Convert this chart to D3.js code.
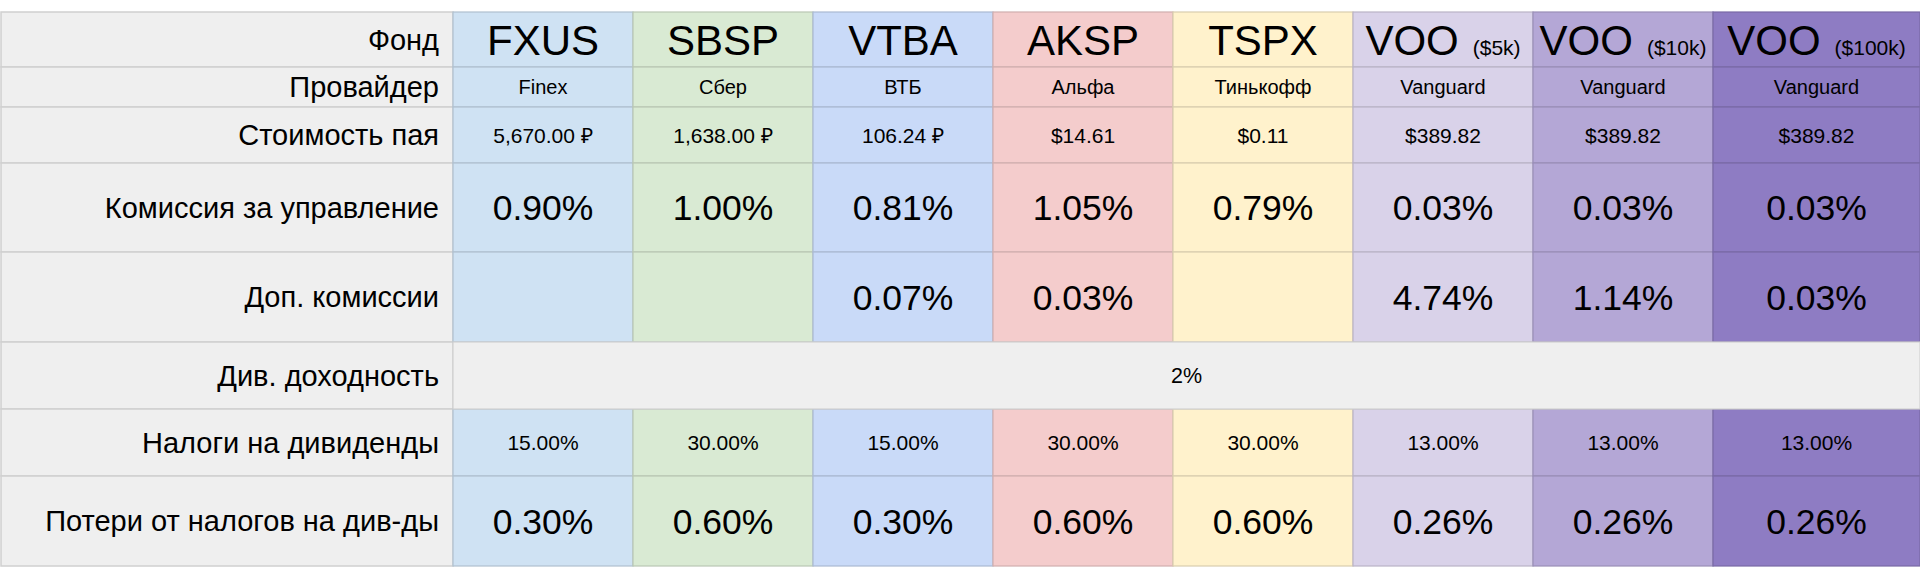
<!DOCTYPE html>
<html>
<head>
<meta charset="utf-8">
<script src="https://cdn.jsdelivr.net/npm/d3@7"></script>
<style>
  body { margin: 0; background: #fff; }
  text { font-family: Arial, "Liberation Sans", sans-serif; fill: #000; }
</style>
</head>
<body>
<div id="container"></div>
<script>

// data
var rowLabels = ["Фонд", "Провайдер", "Стоимость пая", "Комиссия за управление",
    "Доп. комиссии", "Див. доходность", "Налоги на дивиденды", "Потери от налогов на див-ды"];
var funds = ["FXUS", "SBSP", "VTBA", "AKSP", "TSPX", "VOO", "VOO", "VOO"];
var fundNotes = ["", "", "", "", "", "($5k)", "($10k)", "($100k)"];
var providers = ["Finex", "Сбер", "ВТБ", "Альфа", "Тинькофф", "Vanguard", "Vanguard", "Vanguard"];
var prices = ["5,670.00 ₽", "1,638.00 ₽", "106.24 ₽", "$14.61", "$0.11", "$389.82", "$389.82", "$389.82"];
var mgmtFee = [0.90, 1.00, 0.81, 1.05, 0.79, 0.03, 0.03, 0.03];
var extraFee = [null, null, 0.07, 0.03, null, 4.74, 1.14, 0.03];
var divYield = 2;
var divTax = [15, 30, 15, 30, 30, 13, 13, 13];
var taxLoss = [0.30, 0.60, 0.30, 0.60, 0.60, 0.26, 0.26, 0.26];
var colors = ["#cfe2f3", "#d9ead3", "#c9daf8", "#f4cccc", "#fff2cc", "#d9d2e9", "#b4a7d6", "#8e7cc3"];

// layout
var width = 1920, height = 579,
    tableTop = 12,
    labelWidth = 453,
    colWidth = 180,
    rowHeights = [55, 40, 56, 89, 90, 67, 67, 90],
    headBg = "#efefef",
    headLine = "#d0d0d0";

var rowY = [tableTop];
rowHeights.forEach(function (h, i) { rowY.push(rowY[i] + h); });

var x = d3.scaleLinear().domain([0, funds.length]).range([labelWidth, labelWidth + colWidth * funds.length]);
var y = d3.scaleOrdinal().domain(d3.range(rowY.length)).range(rowY);

function colW(i) { return i == funds.length - 1 ? width - x(i) : colWidth; }
function cx(i) { return x(i) + colW(i) / 2; }
function baseline(r, size) { return (y(r) + y(r + 1)) / 2 + size * 0.36; }

var pct2 = d3.format(".2f");

var svg = d3.select("#container")
    .append("svg")
    .attr("width", width)
    .attr("height", height);

// header column
var head = svg.append("g");
head.selectAll("rect")
    .data(rowLabels)
    .enter()
    .append("rect")
    .attr("x", 1)
    .attr("y", function (d, i) { return y(i); })
    .attr("width", labelWidth - 1)
    .attr("height", function (d, i) { return y(i + 1) - y(i); })
    .attr("fill", headBg)
    .attr("stroke", headLine)
    .attr("stroke-width", 1.5);

head.selectAll("text")
    .data(rowLabels)
    .enter()
    .append("text")
    .attr("x", labelWidth - 14)
    .attr("y", function (d, i) { return baseline(i, 29); })
    .attr("text-anchor", "end")
    .style("font-size", "29px")
    .text(function (d) { return d; });

// fund columns
var rowsPerFund = [0, 1, 2, 3, 4, 6, 7];
var cells = [];
funds.forEach(function (f, i) {
    rowsPerFund.forEach(function (r) { cells.push({ col: i, row: r }); });
});

svg.append("g").selectAll("rect")
    .data(cells)
    .enter()
    .append("rect")
    .attr("x", function (d) { return x(d.col); })
    .attr("y", function (d) { return y(d.row); })
    .attr("width", function (d) { return colW(d.col); })
    .attr("height", function (d) { return y(d.row + 1) - y(d.row); })
    .attr("fill", function (d) { return colors[d.col]; })
    .attr("stroke", function (d) { return d3.rgb(colors[d.col]).darker(0.45); })
    .attr("stroke-width", 1.2);

// merged dividend yield row
svg.append("rect")
    .attr("x", x(0))
    .attr("y", y(5))
    .attr("width", width - x(0))
    .attr("height", y(6) - y(5))
    .attr("fill", headBg)
    .attr("stroke", headLine)
    .attr("stroke-width", 1.2);

svg.append("text")
    .attr("x", (x(0) + width) / 2)
    .attr("y", baseline(5, 21.5))
    .attr("text-anchor", "middle")
    .style("font-size", "21.5px")
    .text(divYield + "%");

// fund names
var names = svg.append("g").selectAll("text")
    .data(funds)
    .enter()
    .append("text")
    .attr("x", function (d, i) { return cx(i); })
    .attr("y", baseline(0, 42))
    .attr("text-anchor", "middle");

names.append("tspan")
    .style("font-size", "42px")
    .text(function (d) { return d; });
names.append("tspan")
    .style("font-size", "21px")
    .attr("dx", function (d, i) { return fundNotes[i] ? 14 : 0; })
    .text(function (d, i) { return fundNotes[i]; });

function valueRow(values, row, size, fmt) {
    svg.append("g").selectAll("text")
        .data(values)
        .enter()
        .append("text")
        .attr("x", function (d, i) { return cx(i); })
        .attr("y", baseline(row, size))
        .attr("text-anchor", "middle")
        .style("font-size", size + "px")
        .text(function (d) { return d == null ? "" : fmt(d); });
}

valueRow(providers, 1, 20, String);
valueRow(prices, 2, 21, String);
valueRow(mgmtFee, 3, 35.5, function (d) { return pct2(d) + "%"; });
valueRow(extraFee, 4, 35.5, function (d) { return pct2(d) + "%"; });
valueRow(divTax, 6, 21, function (d) { return pct2(d) + "%"; });
valueRow(taxLoss, 7, 35.5, function (d) { return pct2(d) + "%"; });

</script>
</body>
</html>
